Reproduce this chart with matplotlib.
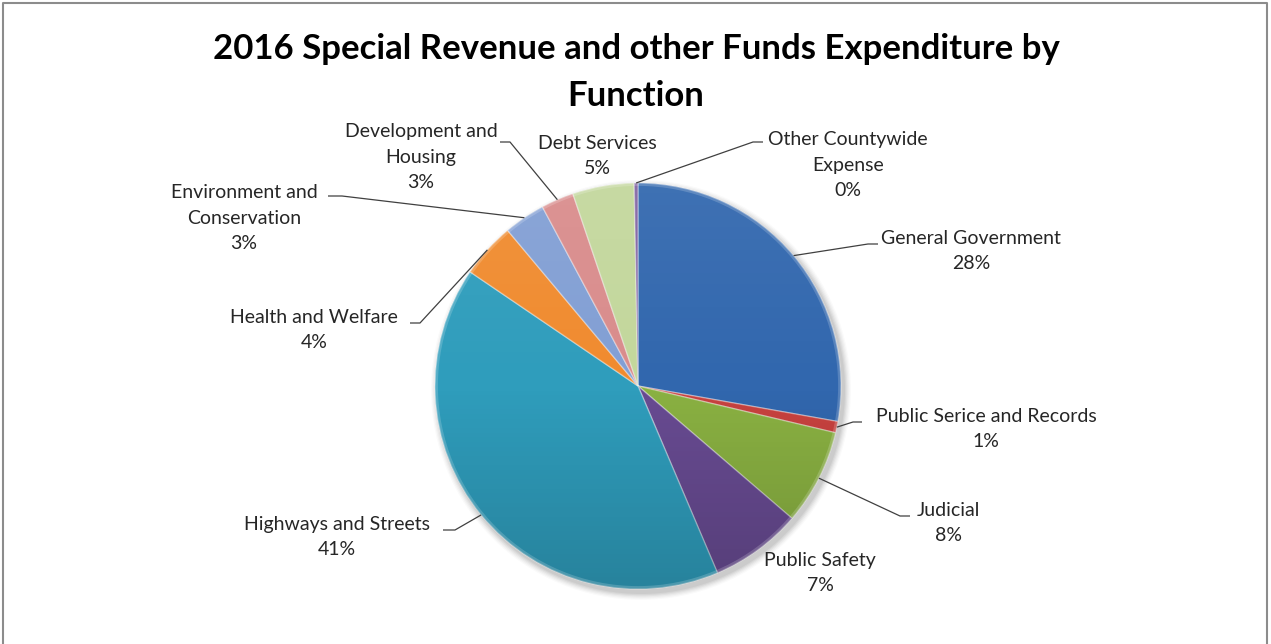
import numpy as np
import matplotlib
matplotlib.use("Agg")
import matplotlib.pyplot as plt
from matplotlib.patches import Circle

# Expenditure share by function (percent of total)
functions = [
    "General Government",
    "Public Serice and Records",
    "Judicial",
    "Public Safety",
    "Highways and Streets",
    "Health and Welfare",
    "Environment and\nConservation",
    "Development and\nHousing",
    "Debt Services",
    "Other Countywide\nExpense",
]
shares = [27.8, 0.9, 7.6, 7.3, 40.9, 4.4, 3.3, 2.6, 4.9, 0.3]
colors = ["#3167AE", "#C8423F", "#8AB142", "#684B92", "#2F9DBC",
          "#F08B2F", "#829FD4", "#D98C8C", "#C3D79C", "#8266A4"]

title = "2016 Special Revenue and other Funds Expenditure by\nFunction"

W, H = 1271, 644
fig = plt.figure(figsize=(W / 100, H / 100), dpi=100)
ax = fig.add_axes([0, 0, 1, 1])
ax.axis("off")


def Y(py):
    return H - py


cx, cy, R = 638, Y(386), 203
FONT = "Lato"

# soft drop shadow under the pie
for i, a in enumerate(np.linspace(0.05, 0.02, 6)):
    ax.add_patch(Circle((cx + 3, cy - 4), R + 1 + i * 1.2, color="black",
                        alpha=a, lw=0, zorder=1))

wedges, _ = ax.pie(shares, colors=colors, startangle=90, counterclock=False,
                   center=(cx, cy), radius=R,
                   wedgeprops=dict(edgecolor=(1, 1, 1, 0.35), linewidth=1.0))
for w in wedges:
    w.set_zorder(2)

# light-to-dark vertical shading over the pie
n = 300
yy = np.linspace(1, 0, n)[:, None] * np.ones((1, n))
img = np.zeros((n, n, 4))
top = yy > 0.5
img[..., :3] = np.where(top[..., None], 1.0, 0.0)
img[..., 3] = np.where(top, (yy - 0.5) * 0.14, (0.5 - yy) * 0.34)
im = ax.imshow(img, extent=(cx - R, cx + R, cy - R, cy + R), origin="upper",
               zorder=3, interpolation="bilinear")
im.set_clip_path(Circle((cx, cy), R, transform=ax.transData))

# rim highlight
ax.add_patch(Circle((cx, cy), R - 1.5, fill=False, lw=2,
                    ec=(1, 1, 1, 0.18), zorder=4))

ax.set_xlim(0, W)
ax.set_ylim(0, H)
ax.set_aspect("equal")

# label layout: text centre, leader-line elbow, stub end
labels = {
    0: dict(pos=(971, 251), elbow=(868, 244), stub=(878, 244)),
    1: dict(pos=(986, 429), elbow=(853, 422), stub=(862, 422)),
    2: dict(pos=(948, 523), elbow=(900, 516), stub=(910, 516)),
    3: dict(pos=(820, 573), elbow=None, stub=None),
    4: dict(pos=(337, 537), elbow=(455, 530), stub=(443, 530)),
    5: dict(pos=(314, 330), elbow=(420, 323), stub=(410, 323)),
    6: dict(pos=(244, 218), elbow=(342, 196), stub=(328, 196)),
    7: dict(pos=(421, 157), elbow=(510, 142), stub=(500, 142)),
    8: dict(pos=(597, 156), elbow=None, stub=None),
    9: dict(pos=(848, 165), elbow=(753, 142), stub=(763, 142)),
}

for i, (name, val, w) in enumerate(zip(functions, shares, wedges)):
    spec = labels[i]
    tx, ty = spec["pos"]
    ax.text(tx, Y(ty), f"{name}\n{val:.0f}%", ha="center", va="center",
            multialignment="center", fontsize=14, family=FONT,
            color="#262626", linespacing=1.63, zorder=6)
    if spec["elbow"] is not None:
        mid = np.deg2rad((w.theta1 + w.theta2) / 2)
        ex, ey = cx + R * np.cos(mid), cy + R * np.sin(mid)
        (bx, by), (sx, sy) = spec["elbow"], spec["stub"]
        ax.plot([ex, bx, sx], [ey, Y(by), Y(sy)], color="#404040",
                lw=0.9, zorder=5, solid_capstyle="butt")

ax.text(636, Y(72.5), title, ha="center", va="center", fontsize=25,
        family=FONT, weight="bold", color="black", linespacing=1.58)

# chart frame
ax.plot([3, 3, W - 4, W - 4], [0, Y(3), Y(3), 0], color="#8C8C8C", lw=1.5,
        zorder=7)

fig.savefig("out.png", dpi=100)
